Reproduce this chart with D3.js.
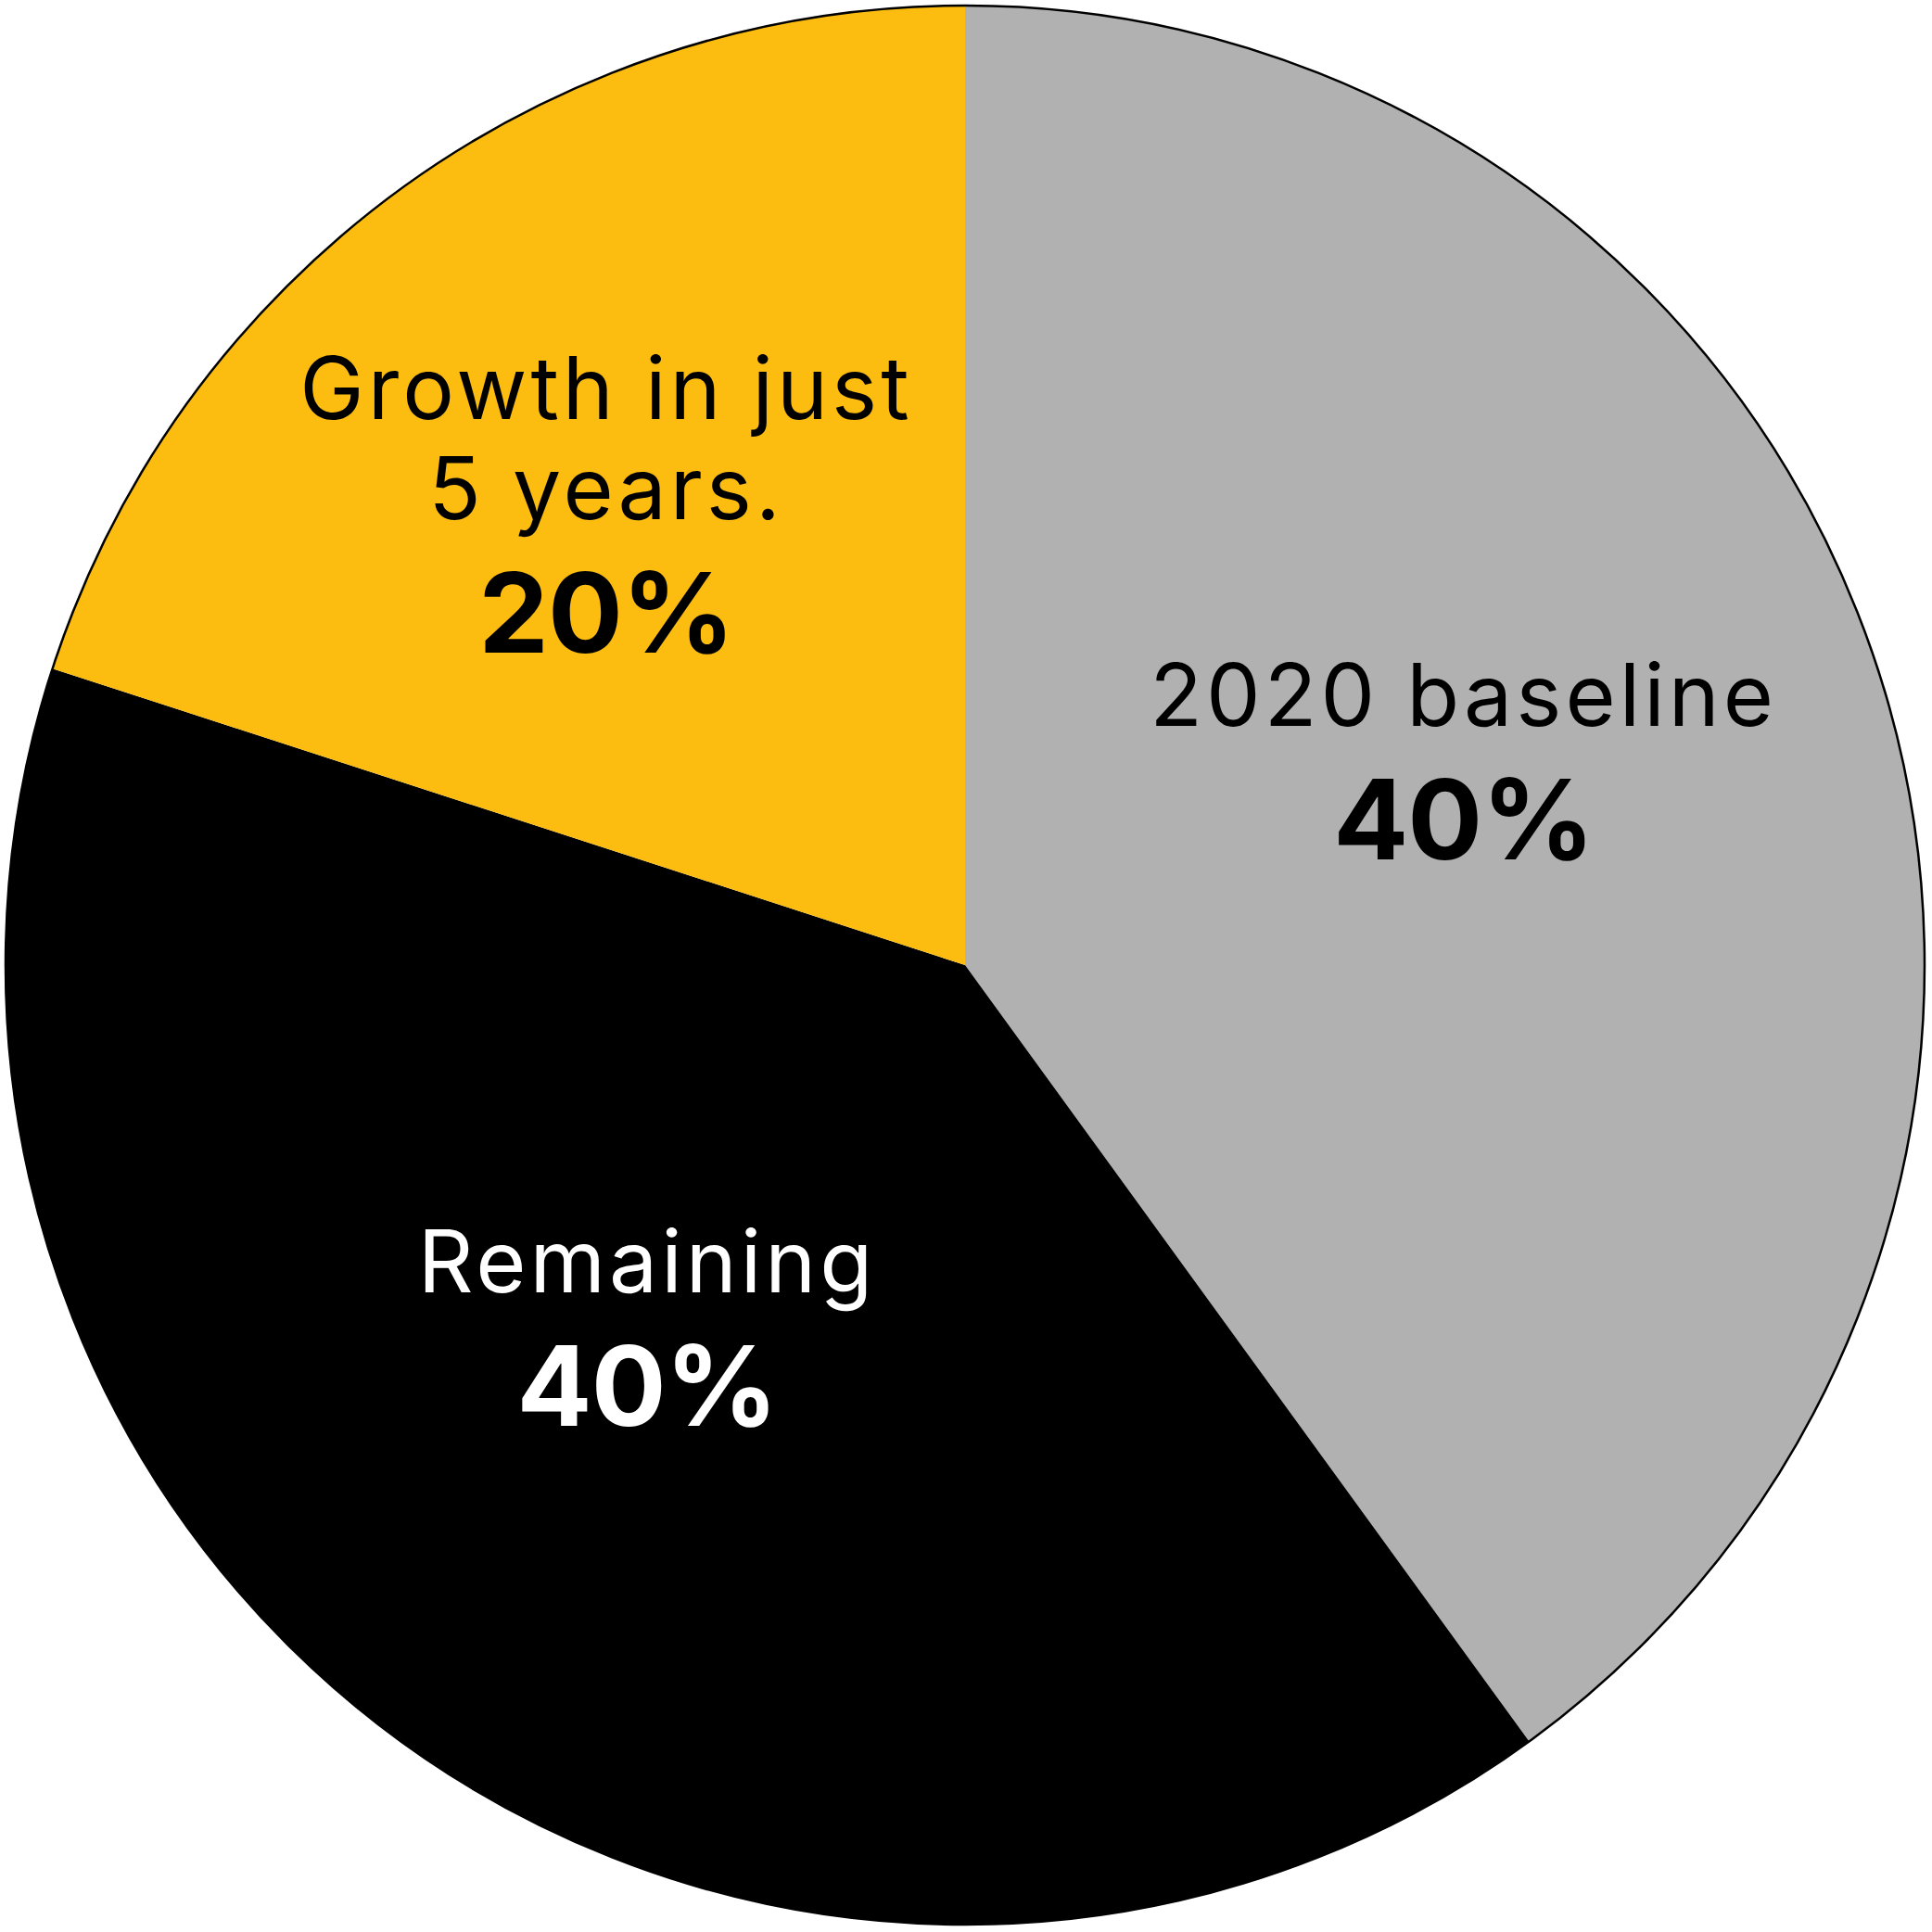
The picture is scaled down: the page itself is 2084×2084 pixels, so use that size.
<!DOCTYPE html>
<html>
<head>
<meta charset="utf-8">
<script src="https://cdn.jsdelivr.net/npm/d3@7"></script>
<style>
  html, body { margin: 0; padding: 0; background: #fff; }
  svg { display: block; }
  .name { font-family: Inter, "Open Sans", sans-serif; font-weight: 400; letter-spacing: 4px; }
  .pct { font-family: Inter, "Open Sans", sans-serif; font-weight: 700; letter-spacing: -1px; }
</style>
</head>
<body>
<div id="chart"></div>
<script>
// slices, clockwise from 12 o'clock
const categories = ["2020 baseline", "Remaining", "Growth in just 5 years."];
const nameLines = [["2020 baseline"], ["Remaining"], ["Growth in just", "5 years."]];
const values = [40, 40, 20];

const colors = ["#b1b1b1", "#000000", "#fdbd10"];
const textColors = ["#000", "#fff", "#000"];
// label nudges from the arc centroid (px)
const labelNudge = [[-53, -66], [22, -149], [-22, -87]];

const width = 2084, height = 2084;
const cx = 1041, cy = 1041, radius = 1035;

const svg = d3.select("#chart")
    .append("svg")
    .attr("width", width)
    .attr("height", height);

const g = svg.append("g").attr("transform", `translate(${cx},${cy})`);

const dataset = categories.map((c, i) => ({ name: c, value: values[i], i }));

const pie = d3.pie().sort(null).value(d => d.value);
const arcs = pie(dataset);

const arc = d3.arc().innerRadius(0).outerRadius(radius);
const labelArc = d3.arc().innerRadius(radius * 0.6).outerRadius(radius * 0.6);

g.selectAll("path.slice")
    .data(arcs)
    .join("path")
    .attr("class", "slice")
    .attr("d", arc)
    .attr("fill", d => colors[d.data.i]);

// outer rim
g.append("circle")
    .attr("r", radius)
    .attr("fill", "none")
    .attr("stroke", "#000")
    .attr("stroke-width", 2.5);

const labels = g.selectAll("g.label")
    .data(arcs)
    .join("g")
    .attr("class", "label")
    .attr("transform", d => {
        const [x, y] = labelArc.centroid(d);
        const [nx, ny] = labelNudge[d.data.i];
        return `translate(${x + nx},${y + ny})`;
    });

labels.each(function(d) {
    const el = d3.select(this);
    const lines = nameLines[d.data.i];
    lines.forEach((t, k) => {
        el.append("text")
            .attr("class", "name")
            .attr("y", k * 108)
            .attr("text-anchor", "middle")
            .attr("font-size", 93)
            .attr("fill", textColors[d.data.i])
            .text(t);
    });
    el.append("text")
        .attr("class", "pct")
        .attr("y", (lines.length - 1) * 108 + 144)
        .attr("text-anchor", "middle")
        .attr("font-size", 120)
        .attr("fill", textColors[d.data.i])
        .text(d.data.value + "%");
});
</script>
</body>
</html>
